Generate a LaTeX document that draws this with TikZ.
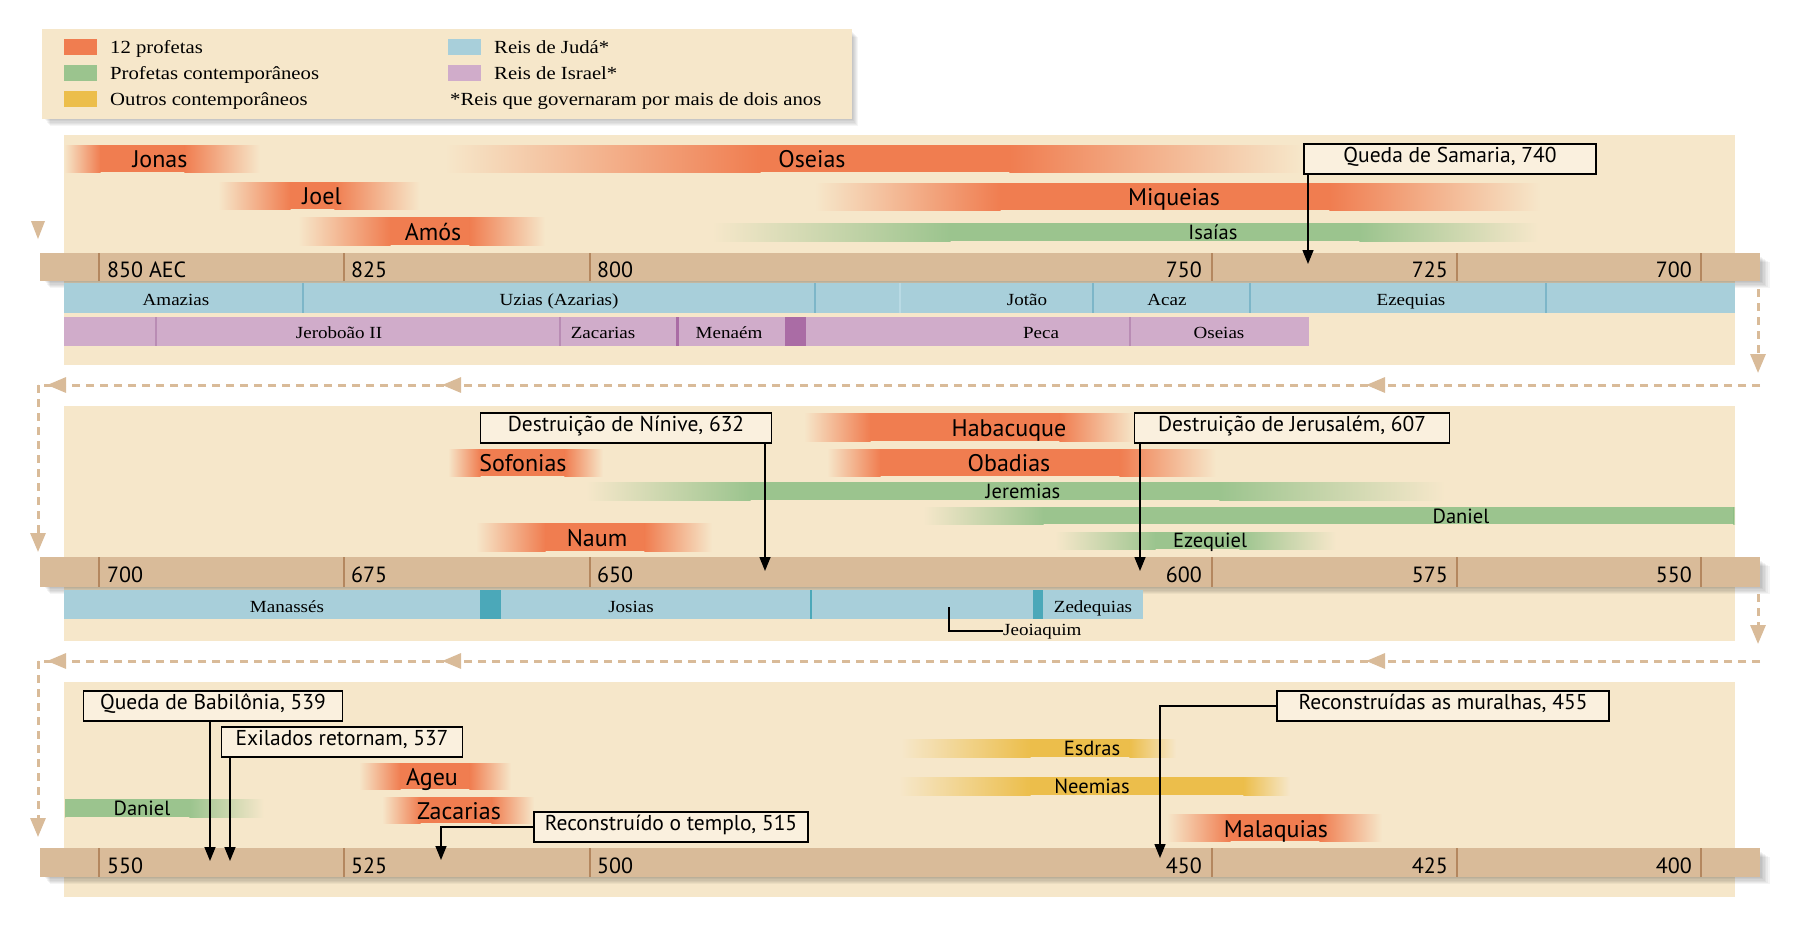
\documentclass[tikz,border=0pt]{standalone}
\usepackage{fontspec}
\setmainfont{Liberation Serif}
\newfontfamily\sansf{PT Sans}
\newfontfamily\kingf[FakeStretch=1.12]{Liberation Serif}
\usetikzlibrary{arrows.meta,decorations.markings,calc}
\definecolor{panelbg}{RGB}{246,231,202}
\definecolor{axisc}{RGB}{217,187,153}
\definecolor{tickc}{RGB}{180,135,95}
\definecolor{orng}{RGB}{240,125,80}
\definecolor{grn}{RGB}{155,196,142}
\definecolor{ylw}{RGB}{236,190,75}
\definecolor{blu}{RGB}{168,207,218}
\definecolor{blul}{RGB}{125,182,200}
\definecolor{blufaint}{RGB}{185,218,228}
\definecolor{tealc}{RGB}{75,168,185}
\definecolor{purp}{RGB}{208,172,202}
\definecolor{purpl}{RGB}{185,140,180}
\definecolor{purpd}{RGB}{170,108,165}
\definecolor{dashc}{RGB}{217,187,153}
\definecolor{boxbg}{RGB}{250,240,222}
% y1 y2 x1 x2 x3 x4 colour
\newcommand\tlbar[7]{%
  \shade[left color=panelbg, right color=#7] (#3,#1) rectangle (#4+0.6,#2);
  \fill[#7] (#4,#1) rectangle (#5,#2);
  \shade[left color=#7, right color=panelbg] (#5-0.6,#1) rectangle (#6,#2);
}
\newcommand\tlaxis[2]{%
  \foreach \d in {1,...,6} \fill[black,opacity=0.045] (44+\d,#1+3+\d) rectangle (1760+\d*1.6,#2+\d*1.2);
  \fill[axisc] (40,#1) rectangle (1760,#2);
  \foreach \t in {99,344,590,1212,1457,1701} \draw[tickc,line width=1.2] (\t,#1) -- (\t,#2);
}
\tikzset{
  lbl/.style={font=\sansf\fontsize{24}{28}\selectfont, inner sep=0, text height=16, text depth=3, yshift=-2.5pt},
  glbl/.style={font=\sansf\fontsize{20.5}{24}\selectfont, inner sep=0, text height=14, text depth=3, yshift=-2pt},
  yrl/.style={font=\sansf\fontsize{22}{26}\selectfont, inner sep=0, text height=15, text depth=0, anchor=west, yshift=-2pt},
  yrr/.style={font=\sansf\fontsize{22}{26}\selectfont, inner sep=0, text height=15, text depth=0, anchor=east, yshift=-2pt},
  king/.style={font=\kingf\fontsize{17}{20}\selectfont, inner sep=0, text height=12, text depth=3, yshift=-3pt},
  leg/.style={font=\kingf\fontsize{18.5}{22}\selectfont, inner sep=0, anchor=west, text height=13, text depth=3, yshift=-1pt},
  evt/.style={draw=black, line width=1.6, fill=boxbg, font=\sansf\fontsize{21.5}{25}\selectfont, inner sep=0, minimum height=30, text height=13, text depth=7},
  evtarrow/.style={line width=1.5, -{Triangle[length=14pt,width=11pt]}},
  dashln/.style={dashc, line width=3, dash pattern=on 8pt off 6pt},
  flowtip/.style={-{Triangle[length=19pt,width=15pt]}},
  kline/.style={blul, line width=1.3},
  pline/.style={purpl, line width=1.3}
}
\begin{document}
\begin{tikzpicture}[x=1pt,y=-1pt]
\useasboundingbox (0,0) rectangle (1800,930);
\fill[white] (0,0) rectangle (1800,930);

% ---------- legend ----------
\foreach \d in {1,...,6} \fill[black,opacity=0.04] (44+\d,31+\d) rectangle (852+\d,119+\d*1.2);
\fill[panelbg] (42,29) rectangle (852,119);
\fill[orng] (64,39) rectangle (97,55);
\fill[grn] (64,65) rectangle (97,81);
\fill[ylw] (64,91) rectangle (97,107);
\fill[blu] (448,39) rectangle (481,55);
\fill[purp] (448,65) rectangle (481,81);
\node[leg] (lg1) at (110,47) {12 profetas};
\node[leg] (lg2) at (110,73) {Profetas contemporâneos};
\node[leg] (lg3) at (110,99) {Outros contemporâneos};
\node[leg] (lg4) at (494,47) {Reis de Judá*};
\node[leg] (lg5) at (494,73) {Reis de Israel*};
\node[leg] (lg6) at (450,99) {*Reis que governaram por mais de dois anos};

% ---------- panels ----------
\fill[panelbg] (64,135) rectangle (1735,365);
\fill[panelbg] (64,406) rectangle (1735,641);
\fill[panelbg] (64,682) rectangle (1735,897);

% ---------- flow connectors ----------
\fill[dashc] (31,221) -- (45,221) -- (38,239) -- cycle;
\coordinate (r1a) at (1758,289);
\coordinate (r1b) at (1758,373);
\draw[dashln, flowtip] (r1a) -- (r1b);
\coordinate (h1a) at (1760,385);
\coordinate (h1b) at (38,385);
\coordinate (v1b) at (38,552);
\draw[dashln, postaction={decorate}, decoration={markings,
   mark=at position 394pt with {\arrow{Triangle[length=19pt,width=15pt]}},
   mark=at position 1318pt with {\arrow{Triangle[length=19pt,width=15pt]}},
   mark=at position 1713pt with {\arrow{Triangle[length=19pt,width=15pt]}}}] (h1a) -- (h1b);
\draw[dashln, flowtip] (h1b) -- (v1b);
\coordinate (r2a) at (1758,594);
\coordinate (r2b) at (1758,644);
\draw[dashln, flowtip] (r2a) -- (r2b);
\coordinate (h2a) at (1760,661);
\coordinate (h2b) at (38,661);
\coordinate (v2b) at (38,837);
\draw[dashln, postaction={decorate}, decoration={markings,
   mark=at position 394pt with {\arrow{Triangle[length=19pt,width=15pt]}},
   mark=at position 1318pt with {\arrow{Triangle[length=19pt,width=15pt]}},
   mark=at position 1713pt with {\arrow{Triangle[length=19pt,width=15pt]}}}] (h2a) -- (h2b);
\draw[dashln, flowtip] (h2b) -- (v2b);

% ================= PANEL 1 =================
\tlbar{145}{172}{64}{100}{185}{260}{orng}
\tlbar{145}{172}{445}{760}{1010}{1302}{orng}
\tlbar{182}{209}{218}{290}{335}{420}{orng}
\tlbar{183}{210}{815}{1000}{1330}{1540}{orng}
\tlbar{217}{245}{298}{390}{470}{545}{orng}
\tlbar{223}{241}{712}{950}{1360}{1538}{grn}
\node[lbl] (jonas) at (160,158) {Jonas};
\node[lbl] (oseias) at (812,158) {Oseias};
\node[lbl] (joel) at (322,195) {Joel};
\node[lbl] (miqueias) at (1174,196) {Miqueias};
\node[lbl] (amos) at (433,231) {Amós};
\node[glbl] (isaias) at (1213,232) {Isaías};

\tlaxis{253}{281}
\node[yrl] (a850) at (107,268) {850 AEC};
\node[yrl] (a825) at (351,268) {825};
\node[yrl] (a800) at (597,268) {800};
\node[yrr] (a750) at (1202,268) {750};
\node[yrr] (a725) at (1448,268) {725};
\node[yrr] (a700) at (1692,268) {700};

\fill[blu] (64,283) rectangle (1735,313);
\foreach \x in {303,815,1093,1250,1546} \draw[kline] (\x,283) -- (\x,313);
\draw[blufaint, line width=1.2] (900,283) -- (900,313);
\node[king] (amazias) at (176,298) {Amazias};
\node[king] (uzias) at (559,298) {Uzias (Azarias)};
\node[king] (jotao) at (1027,298) {Jotão};
\node[king] (acaz) at (1167,298) {Acaz};
\node[king] (ezequias) at (1411,298) {Ezequias};

\fill[purp] (64,317) rectangle (1309,346);
\foreach \x in {156,560,1130} \draw[pline] (\x,317) -- (\x,346);
\draw[purpd, line width=3] (677,317) -- (677,346);
\fill[purpd] (785,317) rectangle (806,346);
\node[king] (jeroboao) at (339,331) {Jeroboão II};
\node[king] (zacarias1) at (603,331) {Zacarias};
\node[king] (menaem) at (729,331) {Menaém};
\node[king] (peca) at (1041,331) {Peca};
\node[king] (oseiasr) at (1219,331) {Oseias};

\node[evt, minimum width=292] (qs) at (1450,159) {Queda de Samaria, 740};
\coordinate (qsT) at (1308,264);
\draw[evtarrow] (qs.south -| qsT) -- (qsT);

% ================= PANEL 2 =================
\tlbar{413}{441}{804}{870}{1060}{1135}{orng}
\tlbar{449}{476}{448}{480}{565}{603}{orng}
\tlbar{449}{476}{827}{880}{1120}{1216}{orng}
\tlbar{482}{500}{586}{750}{1220}{1445}{grn}
\tlbar{507}{524}{923}{1043}{1734}{1735}{grn}
\tlbar{532}{549}{1055}{1155}{1240}{1336}{grn}
\tlbar{523}{551}{476}{545}{645}{712}{orng}
\node[lbl] (habacuque) at (1009,427) {Habacuque};
\node[lbl] (sofonias) at (523,462) {Sofonias};
\node[lbl] (obadias) at (1009,462) {Obadias};
\node[glbl] (jeremias) at (1023,491) {Jeremias};
\node[glbl] (daniel1) at (1461,516) {Daniel};
\node[glbl] (ezequiel) at (1210,540) {Ezequiel};
\node[lbl] (naum) at (597,537) {Naum};

\tlaxis{557}{587}
\node[yrl] (b700) at (107,573) {700};
\node[yrl] (b675) at (351,573) {675};
\node[yrl] (b650) at (597,573) {650};
\node[yrr] (b600) at (1202,573) {600};
\node[yrr] (b575) at (1448,573) {575};
\node[yrr] (b550) at (1692,573) {550};

\fill[blu] (64,590) rectangle (1143,619);
\fill[tealc] (480,590) rectangle (501,619);
\fill[tealc] (1033,590) rectangle (1043,619);
\draw[tealc, line width=2] (811,590) -- (811,619);
\node[king] (manasses) at (287,605) {Manassés};
\node[king] (josias) at (631,605) {Josias};
\node[king] (zedequias) at (1093,605) {Zedequias};
\node[king, anchor=west] (jeoiaquim) at (1003,628) {Jeoiaquim};
\coordinate (jeoT) at (949,607);
\draw[line width=1.3] (jeoT) |- (jeoiaquim.west);

\node[evt, minimum width=291] (ninive) at (626,428) {Destruição de Nínive, 632};
\coordinate (ninT) at (765,571);
\draw[evtarrow] (ninive.south -| ninT) -- (ninT);
\node[evt, minimum width=315] (jerus) at (1292,428) {Destruição de Jerusalém, 607};
\coordinate (jerT) at (1140,571);
\draw[evtarrow] (jerus.south -| jerT) -- (jerT);

% ================= PANEL 3 =================
\tlbar{799}{817}{64}{65}{190}{264}{grn}
\tlbar{763}{789}{359}{400}{470}{511}{orng}
\tlbar{797}{823}{382}{420}{492}{534}{orng}
\tlbar{739}{757}{901}{1030}{1130}{1176}{ylw}
\tlbar{777}{795}{899}{1030}{1244}{1290}{ylw}
\tlbar{814}{841}{1167}{1230}{1320}{1382}{orng}
\node[glbl] (daniel2) at (142,808) {Daniel};
\node[lbl] (ageu) at (432,776) {Ageu};
\node[lbl] (zacarias2) at (459,810) {Zacarias};
\node[glbl] (esdras) at (1092,748) {Esdras};
\node[glbl] (neemias) at (1092,786) {Neemias};
\node[lbl] (malaquias) at (1276,828) {Malaquias};

\tlaxis{848}{877}
\node[yrl] (c550) at (107,864) {550};
\node[yrl] (c525) at (351,864) {525};
\node[yrl] (c500) at (597,864) {500};
\node[yrr] (c450) at (1202,864) {450};
\node[yrr] (c425) at (1448,864) {425};
\node[yrr] (c400) at (1692,864) {400};

\node[evt, minimum width=259] (babil) at (213,706) {Queda de Babilônia, 539};
\coordinate (babT) at (210,861);
\draw[evtarrow] (babil.south -| babT) -- (babT);
\node[evt, minimum width=241] (exil) at (342,742) {Exilados retornam, 537};
\coordinate (exiT) at (230,861);
\draw[evtarrow] (exil.south -| exiT) -- (exiT);
\node[evt, minimum width=274] (templo) at (671,827) {Reconstruído o templo, 515};
\coordinate (temT) at (441,860);
\draw[evtarrow] (templo.west) -| (temT);
\node[evt, minimum width=332] (muralhas) at (1443,706) {Reconstruídas as muralhas, 455};
\coordinate (murT) at (1160,858);
\draw[evtarrow] (muralhas.west) -| (murT);
\end{tikzpicture}
\end{document}
